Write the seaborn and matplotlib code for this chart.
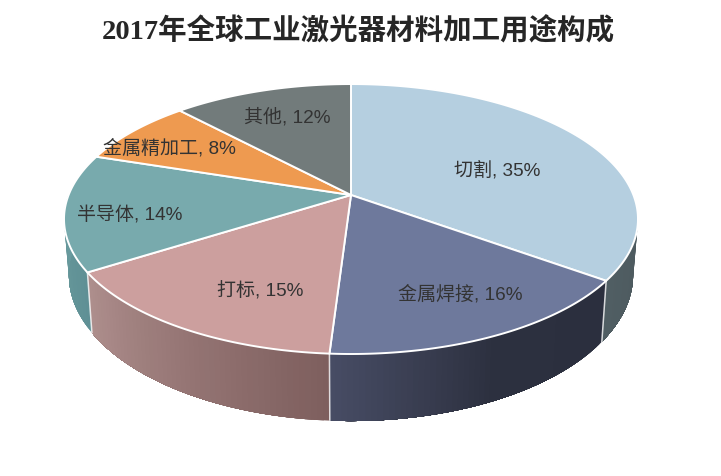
"""3D style pie of industrial laser material-processing uses, 2017."""

import matplotlib.pyplot as plt
import numpy as np
import seaborn as sns

TITLE = "2017年全球工业激光器材料加工用途构成"
CATEGORIES = ["切割", "金属焊接", "打标", "半导体", "金属精加工", "其他"]
SHARES = [35, 16, 15, 14, 8, 12]

TOP_COLORS = ["#b5cfe0", "#6e799c", "#cc9f9e", "#78aaad", "#ee9a50", "#727b7b"]
SIDE_LEFT = ["#505e63", "#474c64", "#ae8f8d", "#6a9ca0", "#c08040", "#5c6464"]
SIDE_MID = ["#4e5b60", "#2c303f", "#967675", "#659699", "#c08040", "#5c6464"]
SIDE_RIGHT = ["#4c595e", "#2b2f3e", "#7e5f5e", "#5f9095", "#c08040", "#5c6464"]
LABEL_POS = [(497, 171), (460, 294), (260, 291), (130, 215), (169, 148), (287, 117)]

# perspective ellipse, fitted to the picture in pixels
CX, CY = 351, 196
RX, RY, PERSP = 282.4, 130.7, 0.178
BOTTOM_CY, BOTTOM_SX, BOTTOM_SY = 250, 0.983, 1.082

sns.set_theme(style="white")
plt.rcParams["font.family"] = ["Liberation Sans", "Noto Sans CJK SC"]


def rim(theta):
    w = 1 + PERSP * np.cos(theta)
    return CX + RX * np.sin(theta) / w, CY - RY * np.cos(theta) / w


def bottom_rim(theta):
    x, y = rim(theta)
    return CX + (x - CX) * BOTTOM_SX, BOTTOM_CY + (y - CY) * BOTTOM_SY


fig = plt.figure(figsize=(7.21, 4.77), dpi=100)
ax = fig.add_axes([0, 0, 1, 1])
ax.set_xlim(0, 721)
ax.set_ylim(477, 0)
ax.axis("off")

edges = np.deg2rad(np.cumsum([0] + SHARES) * 3.6)

# outer wall, only the part facing the viewer
wall_start, wall_end = np.deg2rad(90), np.deg2rad(270)
for i in range(len(SHARES)):
    start, end = max(edges[i], wall_start), min(edges[i + 1], wall_end)
    if end <= start:
        continue
    steps = max(int(np.degrees(end - start)), 2)
    palette = sns.blend_palette([SIDE_LEFT[i], SIDE_MID[i], SIDE_RIGHT[i]], steps)
    cuts = np.linspace(start, end, steps + 1)
    for j in range(steps):
        # each strip runs on to the slice end, so the next one paints over it
        # and no hairline seams show between them
        t = np.linspace(cuts[j], end, max(steps - j, 2) * 2)
        xt, yt = rim(t)
        xb, yb = bottom_rim(t)
        color = palette[steps - 1 - j]
        ax.fill(np.r_[xt, xb[::-1]], np.r_[yt, yb[::-1]], color=color, lw=0, zorder=2)

# white seams where a slice boundary crosses the wall
for i in range(1, len(SHARES)):
    if wall_start < edges[i] < wall_end:
        xt, yt = rim(edges[i])
        xb, yb = bottom_rim(edges[i])
        ax.plot([xt, xb], [yt, yb], color="white", lw=1.1, alpha=0.8, zorder=3)

# top face
for i in range(len(SHARES)):
    t = np.linspace(edges[i], edges[i + 1], 120)
    x, y = rim(t)
    ax.fill(
        np.r_[CX, x],
        np.r_[CY, y],
        facecolor=TOP_COLORS[i],
        edgecolor="white",
        lw=1.4,
        joinstyle="round",
        zorder=4,
    )

for name, share, (x, y) in zip(CATEGORIES, SHARES, LABEL_POS):
    ax.text(x, y, f"{name}, {share}%", ha="center", va="center", fontsize=13.7,
            color="#333333", zorder=5)

ax.text(358, 31, TITLE, ha="center", va="center", fontsize=20.5, fontweight="bold",
        color="#262626", family=["Liberation Serif", "Noto Sans CJK SC"])

fig.savefig("out.png", dpi=100)
plt.close(fig)
